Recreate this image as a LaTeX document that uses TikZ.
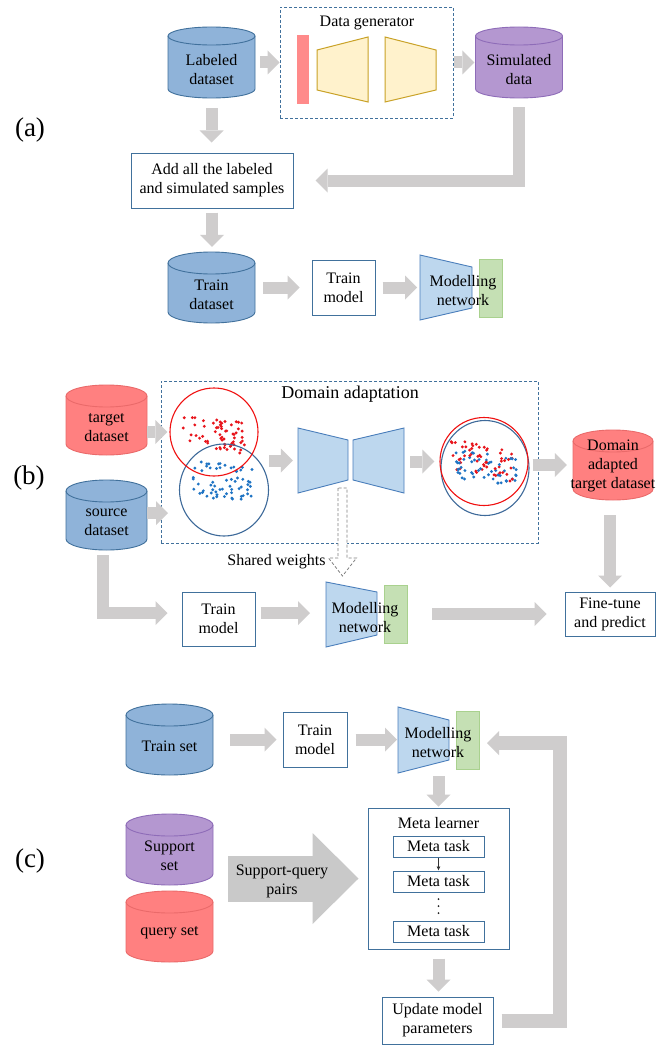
\documentclass[tikz,border=0pt]{standalone}
\usepackage{fontspec}
\setmainfont{Liberation Serif}
\usetikzlibrary{arrows.meta,calc,shapes.geometric}

\definecolor{cylBfill}{HTML}{8FB3D9}
\definecolor{cylBline}{HTML}{41719C}
\definecolor{cylPfill}{HTML}{B497D0}
\definecolor{cylPline}{HTML}{8E6CB8}
\definecolor{cylRfill}{HTML}{FF8080}
\definecolor{cylRline}{HTML}{EA6A6A}
\definecolor{boxline}{HTML}{41719C}
\definecolor{netfill}{HTML}{BDD7EE}
\definecolor{netline}{HTML}{4A7EBB}
\definecolor{headfill}{HTML}{C5E0B4}
\definecolor{headline}{HTML}{A9D18E}
\definecolor{genfill}{HTML}{FFF2CC}
\definecolor{genline}{HTML}{C9A227}
\definecolor{noisebar}{HTML}{FF8A8A}
\definecolor{flowgray}{HTML}{CFCDCD}
\definecolor{biggray}{HTML}{C9C9C9}
\definecolor{dotred}{HTML}{E8141B}
\definecolor{dotblue}{HTML}{1F74C4}
\definecolor{ringred}{HTML}{F01010}
\definecolor{ringblue}{HTML}{3E6A9A}

\tikzset{
  cylB/.style={fill=cylBfill, draw=cylBline},
  cylP/.style={fill=cylPfill, draw=cylPline},
  cylR/.style={fill=cylRfill, draw=cylRline},
  txt/.style={inner sep=0pt, align=center},
  box/.style={draw=boxline, fill=white, line width=1pt, inner sep=0pt, align=center},
  dashbox/.style={draw=boxline, line width=0.9pt, dash pattern=on 3pt off 2pt},
  net/.style={fill=netfill, draw=netline, line width=0.9pt},
  headblk/.style={fill=headfill, draw=headline, line width=0.8pt},
  gen/.style={fill=genfill, draw=genline, line width=1pt},
  flow/.style={draw=flowgray, line width=12pt, -{Triangle[length=12pt,width=24pt,line width=0pt]}},
  bigflow/.style={draw=biggray, line width=46pt, -{Triangle[length=46pt,width=91pt,line width=0pt]}},
  lbl/.style={font=\fontsize{27}{30}\selectfont, inner sep=0pt},
}

% database cylinder: name, style, cx, top, bottom, rx, ry, text y, text
\newcommand\dbcyl[9]{%
  \filldraw[#2, line width=0.9pt] ({#3-#6},{#4+#7}) -- ({#3-#6},{#5-#7})
    arc[start angle=180, end angle=0, x radius=#6, y radius=#7]
    -- ({#3+#6},{#4+#7})
    arc[start angle=0, end angle=-180, x radius=#6, y radius=#7] -- cycle;
  \draw[#2, fill=none, line width=0.9pt] ({#3-#6},{#4+#7})
    arc[start angle=180, end angle=0, x radius=#6, y radius=#7];
  \path (#3,{(#4+#5)/2}) node[minimum width={2*#6}, minimum height={#5-#4}, inner sep=0pt] (#1) {};
  \node[txt] at (#3,#8) {#9};
}

\begin{document}
\begin{tikzpicture}[x=1pt, y=-1pt, font=\fontsize{16}{19}\selectfont]
\fill[white] (0,0) rectangle (669,1046);
\useasboundingbox (0,0) rectangle (669,1046);

%% ---------------- (a) data generation ----------------
\node[lbl] (tagA) at (30,130) {(a)};
\dbcyl{lab}{cylB}{211.5}{27}{98}{43.5}{9}{69.5}{Labeled\\dataset}
\dbcyl{sim}{cylP}{519}{27}{98}{43.5}{9}{69.5}{Simulated\\data}

\node[dashbox, minimum width=173, minimum height=111, inner sep=0pt] (dgbox) at (366.5,62.5) {};
\node[txt] (dgtitle) at (367,23) {Data generator};
\fill[noisebar] (297,35) rectangle (309,104);
\filldraw[gen] (317,50) -- (368,37) -- (368,102) -- (317,90) -- cycle;
\filldraw[gen] (385,37) -- (436,50) -- (436,90) -- (385,102) -- cycle;

\node[box, minimum width=162, minimum height=55] (addbox) at (212,180.5) {Add all the labeled\\and simulated samples};
\dbcyl{trd}{cylB}{211.5}{252}{323}{43.5}{11}{294.5}{Train\\dataset}
\node[box, minimum width=63, minimum height=55] (tma) at (343.5,287.5) {Train\\model};

\filldraw[net] (420,255) -- (472,267) -- (472,308) -- (420,320) -- cycle;
\filldraw[headblk] (479,259) rectangle (502,317);
\node[txt] (mna) at (463,291) {Modelling\\network};
\coordinate (mnaL) at (420,287.5);

\draw[flow, shorten <=5pt] (lab.east) -- (dgbox.west);
\draw[flow, shorten <=1pt, shorten >=1pt] (dgbox.east) -- (sim.west);
\draw[flow, shorten <=10pt, shorten >=10pt] (lab.south) -- (lab.south |- addbox.north);
\draw[flow, shorten <=9pt, shorten >=22pt] (sim.south) |- (addbox.east);
\draw[flow, shorten <=4pt, shorten >=5pt] (addbox.south) -- (addbox.south |- trd.north);
\draw[flow, shorten <=8pt, shorten >=12pt] (trd.east) -- (tma.west);
\draw[flow, shorten <=7pt, shorten >=3pt] (tma.east) -- (mnaL);

%% ---------------- (b) domain adaptation ----------------
\node[lbl] (tagB) at (29,478) {(b)};
\dbcyl{tgt}{cylR}{106.5}{385}{455}{40.5}{11}{427.5}{target\\dataset}
\dbcyl{src}{cylB}{106.5}{480}{550}{40.5}{11}{522}{source\\dataset}
\dbcyl{dat}{cylR}{613}{430}{500}{40}{11}{466}{Domain\\adapted\\target dataset}

\node[dashbox, minimum width=377, minimum height=162, inner sep=0pt] (dabox) at (349.5,462) {};
\node[txt, font=\fontsize{18}{21}\selectfont] (datitle) at (350,394) {Domain adaptation};

% feature clouds before adaptation
\pgfmathsetseed{11}
\foreach \k in {1,...,62}{
  \pgfmathsetmacro\u{rand}\pgfmathsetmacro\v{rand}
  \fill[dotred] ({214+31*\u},{434+5*\u+17*\v}) circle (1.6pt);
}
\foreach \k in {1,...,62}{
  \pgfmathsetmacro\u{rand}\pgfmathsetmacro\v{rand}
  \fill[dotblue] ({223+30*\u},{482+5*\u+18*\v}) circle (1.6pt);
}
\node[ellipse, draw=ringblue, line width=1.1pt, minimum width=89, minimum height=92, inner sep=0pt] (bc) at (224,490) {};
\node[circle, draw=ringred, line width=1.1pt, minimum size=88, inner sep=0pt] (rc) at (214,432) {};

% encoder / decoder
\filldraw[net] (298,428) -- (348,440) -- (348,480) -- (298,493) -- cycle;
\filldraw[net] (353,440) -- (404,428) -- (404,493) -- (353,480) -- cycle;
\node[minimum width=106, minimum height=65, inner sep=0pt] (enc) at (351,460.5) {};

% feature clouds after adaptation
\foreach \k in {1,...,55}{
  \pgfmathsetmacro\u{rand}\pgfmathsetmacro\v{rand}
  \fill[dotred] ({482+31*\u},{460+7*\u+16*\v}) circle (1.6pt);
  \pgfmathsetmacro\u{rand}\pgfmathsetmacro\v{rand}
  \fill[dotblue] ({486+31*\u},{468+7*\u+16*\v}) circle (1.6pt);
}
\node[ellipse, draw=ringblue, line width=1.1pt, minimum width=88, minimum height=95, inner sep=0pt] (mbc) at (485,468) {};
\node[circle, draw=ringred, line width=1.1pt, minimum size=88, inner sep=0pt] (mrc) at (484,461.5) {};

\coordinate (srcin) at (168,513);
\draw[flow, shorten >=2pt] (tgt.east |- rc.west) -- (rc.west);
\draw[flow] (src.east |- srcin) -- (srcin);
\draw[flow, shorten >=5pt] (bc.east |- enc.west) -- (enc.west);
\draw[flow, shorten <=6pt, shorten >=5pt] (enc.east |- mrc.west) -- (mrc.west);
\draw[flow, shorten <=3pt, shorten >=6pt] (mbc.east |- dat.west) -- (dat.west);

% shared weights (dashed hollow arrow)
\coordinate (swtop) at (342.5,488);
\coordinate (swtip) at (342.5,576);
\draw[draw=gray, line width=0.8pt, dash pattern=on 3pt off 2pt, fill=white]
  ($(swtop)+(-4.5,0)$) -- ($(swtip)+(-4.5,-18)$) -- ($(swtip)+(-14,-18)$) -- (swtip)
  -- ($(swtip)+(14,-18)$) -- ($(swtip)+(4.5,-18)$) -- ($(swtop)+(4.5,0)$) -- cycle;
\node[txt] (swlabel) at (276.5,562) {Shared weights};

% training row
\node[box, minimum width=73, minimum height=54] (tmb) at (218.5,619) {Train\\model};
\filldraw[net] (326,582) -- (377,592) -- (377,635) -- (326,647) -- cycle;
\filldraw[headblk] (384,585) rectangle (407,643);
\node[txt] (mnb) at (365,618) {Modelling\\network};
\coordinate (mnbL) at (326,613);
\coordinate (mnbR) at (407,614);
\node[box, minimum width=90, minimum height=44] (ftp) at (610,614) {Fine-tune\\and predict};

\draw[flow, shorten <=5pt, shorten >=14pt] ([xshift=-4pt]src.south) |- ([yshift=6pt]tmb.west);
\draw[flow, shorten <=5pt, shorten >=16pt] ([yshift=6pt]tmb.east) -- (mnbL);
\draw[flow, shorten <=25pt, shorten >=18pt] (mnbR) -- (ftp.west);
\draw[flow, shorten <=15pt, shorten >=4pt] (dat.south -| ftp.north) -- (ftp.north);

%% ---------------- (c) meta learning ----------------
\node[lbl] (tagC) at (30,861) {(c)};
\dbcyl{trs}{cylB}{169.5}{704}{775}{43.5}{11}{746}{Train set}
\dbcyl{sup}{cylP}{169.5}{814}{885}{43.5}{11}{856}{Support\\set}
\dbcyl{qry}{cylR}{169.5}{891}{962}{43.5}{11}{933}{query set}

\node[box, minimum width=64, minimum height=55] (tmc) at (315,739.5) {Train\\model};
\filldraw[net] (398,707) -- (449,720) -- (449,760) -- (398,773) -- cycle;
\filldraw[headblk] (456,711) rectangle (479,769);
\node[txt] (mnc) at (438,743) {Modelling\\network};
\coordinate (mncL) at (398,739.5);
\coordinate (mncB) at (438,773);
\coordinate (mncR) at (479,743);

\node[box, minimum width=141, minimum height=141] (meta) at (438.5,878.5) {};
\node[txt] (metatitle) at (438.5,823) {Meta learner};
\node[box, minimum width=91, minimum height=21] (mt1) at (438.5,846.5) {Meta task};
\node[box, minimum width=91, minimum height=21] (mt2) at (438.5,881.5) {Meta task};
\node[box, minimum width=91, minimum height=21] (mt3) at (438.5,931.5) {Meta task};
% vertical ellipsis between the task boxes
\foreach \dy in {899,906,913}{
  \fill[black!85] (438.5,\dy) circle (1pt);
}

\node[box, minimum width=111, minimum height=47] (upd) at (437.5,1020.5) {Update model\\parameters};
\coordinate (fb) at (560,743);

\draw[flow, shorten <=17pt, shorten >=6pt] (trs.east) -- (tmc.west);
\draw[flow, shorten <=8pt, shorten >=1pt] (tmc.east) -- (mncL);
\draw[flow, shorten <=3pt, shorten >=1pt] (meta.north |- mncB) -- (meta.north);
\draw[line width=0.6pt, draw=black!80, -{Latex[length=4pt,width=4pt]}] (mt1.south) -- (mt2.north);
\draw[flow, shorten <=9pt, shorten >=5pt] (meta.south) -- (meta.south |- upd.north);
\draw[flow, line width=14pt, shorten <=8pt, shorten >=8pt] (upd.east) -| (fb) -- (mncR);

\draw[bigflow, shorten <=15pt, shorten >=9pt] (sup.east |- meta.west) -- (meta.west);
\node[txt] (sqlabel) at (282,881) {Support-query\\pairs};
\end{tikzpicture}
\end{document}
